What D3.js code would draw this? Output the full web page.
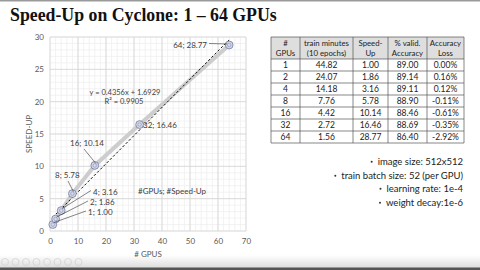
<!DOCTYPE html>
<html>
<head>
<meta charset="utf-8">
<script src="https://cdn.jsdelivr.net/npm/d3@7"></script>
<style>
  body { margin: 0; background: #fff; }
  svg { display: block; }
  text { font-family: Lato, "Open Sans", sans-serif; }
</style>
</head>
<body>
<div id="slide"></div>
<script>
// data
const gpus = [1, 2, 4, 8, 16, 32, 64];
const speedUp = [1.00, 1.86, 3.16, 5.78, 10.14, 16.46, 28.77];
const trainMinutes = [44.82, 24.07, 14.18, 7.76, 4.42, 2.72, 1.56];
const validAccuracy = [89.00, 89.14, 89.11, 88.90, 88.46, 88.69, 86.40];
const accuracyLoss = ["0.00%", "0.16%", "0.12%", "-0.11%", "-0.61%", "-0.35%", "-2.92%"];
const xTicks = [0, 10, 20, 30, 40, 50, 60, 70];
const yTicks = [0, 5, 10, 15, 20, 25, 30];
const trend = {slope: 0.4356, intercept: 1.6929, r2: 0.9905};
const headers = [["#", "GPUs"], ["train minutes", "(10 epochs)"], ["Speed-", "Up"], ["% valid.", "Accuracy"], ["Accuracy", "Loss"]];
const notes = ["image size: 512x512", "train batch size: 52 (per GPU)", "learning rate: 1e-4", "weight decay:1e-6"];

const W = 480, H = 270;
const svg = d3.select("#slide").append("svg")
  .attr("width", W).attr("height", H);

// slide frame: top rule and bottom toolbar
svg.append("rect").attr("x", 0).attr("y", 0).attr("width", W).attr("height", 1.5).attr("fill", "#9a9a9a");
const grad = svg.append("defs").append("linearGradient").attr("id", "bar").attr("x1", 0).attr("x2", 0).attr("y1", 0).attr("y2", 1);
grad.append("stop").attr("offset", "0%").attr("stop-color", "#ffffff");
grad.append("stop").attr("offset", "100%").attr("stop-color", "#dcdcdc");
svg.append("rect").attr("x", 0).attr("y", 255).attr("width", W).attr("height", 13).attr("fill", "url(#bar)");
svg.append("rect").attr("x", 0).attr("y", 267.5).attr("width", W).attr("height", 2.5).attr("fill", "#555");
svg.selectAll(".btn").data(d3.range(8)).join("circle")
  .attr("cx", d => 5 + d * 10.5).attr("cy", 262).attr("r", 3.5)
  .attr("fill", "none").attr("stroke", "#d0d0d0").attr("stroke-width", 0.8);

// title
svg.append("text").attr("x", 10).attr("y", 21)
  .style("font-family", "'Liberation Serif', 'DejaVu Serif', serif")
  .style("font-weight", "bold").style("font-size", "17.8px").attr("fill", "#111")
  .text("Speed-Up on Cyclone: 1 \u2013 64 GPUs");

// chart
const x = d3.scaleLinear().domain([0, 70]).range([50, 246]);
const y = d3.scaleLinear().domain([0, 30]).range([231, 37]);

const g = svg.append("g");
// minor grid
g.selectAll(".mx").data(d3.range(0, 71, 2)).join("line")
  .attr("x1", d => x(d)).attr("x2", d => x(d)).attr("y1", y(0)).attr("y2", y(30))
  .attr("stroke", "#eeeeee").attr("stroke-width", 0.7);
g.selectAll(".my").data(d3.range(0, 31, 1)).join("line")
  .attr("x1", x(0)).attr("x2", x(70)).attr("y1", d => y(d)).attr("y2", d => y(d))
  .attr("stroke", "#eeeeee").attr("stroke-width", 0.7);
// major grid
g.selectAll(".Mx").data(xTicks).join("line")
  .attr("x1", d => x(d)).attr("x2", d => x(d)).attr("y1", y(0)).attr("y2", y(30))
  .attr("stroke", "#d4d4d4").attr("stroke-width", 0.8);
g.selectAll(".My").data(yTicks).join("line")
  .attr("x1", x(0)).attr("x2", x(70)).attr("y1", d => y(d)).attr("y2", d => y(d))
  .attr("stroke", "#d4d4d4").attr("stroke-width", 0.8);

// axes (labels only, no domain)
const xAxis = svg.append("g").attr("transform", `translate(0,${y(0) + 4})`)
  .call(d3.axisBottom(x).tickValues(xTicks).tickSize(0).tickPadding(3));
const yAxis = svg.append("g").attr("transform", `translate(${x(0) - 4},0)`)
  .call(d3.axisLeft(y).tickValues(yTicks).tickSize(0).tickPadding(2));
[xAxis, yAxis].forEach(a => {
  a.select(".domain").remove();
  a.selectAll("text").style("font-family", "Lato, sans-serif").style("font-size", "8px").attr("fill", "#595959");
});

svg.append("text").attr("x", 148).attr("y", 257).attr("text-anchor", "middle")
  .style("font-size", "8px").attr("fill", "#595959").text("# GPUS");
svg.append("text").attr("transform", `translate(32,134) rotate(-90)`).attr("text-anchor", "middle")
  .style("font-size", "8px").attr("fill", "#595959").text("SPEED-UP");

const pts = gpus.map((d, i) => ({g: d, s: speedUp[i]}));

// series line
g.append("path").datum(pts)
  .attr("fill", "none").attr("stroke", "#cdcdcd").attr("stroke-width", 4)
  .attr("d", d3.line().x(d => x(d.g)).y(d => y(d.s)));

// trend line
const tx = d3.extent(gpus);
g.append("line")
  .attr("x1", x(tx[0])).attr("y1", y(trend.slope * tx[0] + trend.intercept))
  .attr("x2", x(tx[1])).attr("y2", y(trend.slope * tx[1] + trend.intercept))
  .attr("stroke", "#111").attr("stroke-width", 1).attr("stroke-dasharray", "2.5,2");

// markers
g.selectAll(".pt").data(pts).join("circle")
  .attr("cx", d => x(d.g)).attr("cy", d => y(d.s)).attr("r", 3.9)
  .attr("fill", "#d5d8e8").attr("stroke", "#7d84a6").attr("stroke-width", 0.9);
g.selectAll(".pti").data(pts).join("circle")
  .attr("cx", d => x(d.g)).attr("cy", d => y(d.s)).attr("r", 1.8)
  .attr("fill", "none").attr("stroke", "#8a90b0").attr("stroke-width", 0.6);

// data labels: [label x, label y, anchor, leader from x,y]
const labelPos = [
  [88, 215, "start", 86, 211],
  [90, 205, "start", 88, 201],
  [93, 194.5, "start", 91, 190.5],
  [55, 178, "start", 68, 181],
  [70, 146, "start", 84, 149],
  [143, 127.5, "start", null, null],
  [207, 47.5, "end", 209, 43.5]
];
pts.forEach((d, i) => {
  const [lx, ly, anc, fx, fy] = labelPos[i];
  if (fx !== null) {
    g.append("line").attr("x1", fx).attr("y1", fy).attr("x2", x(d.g) + (i === 6 ? -2 : 1)).attr("y2", y(d.s) - (i === 6 ? 1 : 2))
      .attr("stroke", "#333").attr("stroke-width", 0.6);
  }
  g.append("text").attr("x", lx).attr("y", ly).attr("text-anchor", anc)
    .style("font-size", "8px").attr("fill", "#404040")
    .text(`${d.g}; ${d3.format(".2f")(d.s)}`);
});

g.append("text").attr("x", 138).attr("y", 194).style("font-size", "8px").attr("fill", "#404040").text("#GPUs; #Speed-Up");
g.append("text").attr("x", 125).attr("y", 94.5).attr("text-anchor", "middle").style("font-size", "7.5px").attr("fill", "#404040")
  .text(`y = ${trend.slope}x + ${trend.intercept}`);
g.append("text").attr("x", 124).attr("y", 104).attr("text-anchor", "middle").style("font-size", "7.5px").attr("fill", "#404040")
  .text(`R\u00b2 = ${trend.r2}`);

// table
const colEdges = [271, 300, 353, 388, 427, 464];
const tTop = 37, headH = 22, rowH = 12;
const rows = gpus.map((d, i) => [String(d), d3.format(".2f")(trainMinutes[i]), d3.format(".2f")(speedUp[i]), d3.format(".2f")(validAccuracy[i]), accuracyLoss[i]]);
const tbl = svg.append("g");
tbl.append("rect").attr("x", colEdges[0]).attr("y", tTop).attr("width", colEdges[5] - colEdges[0]).attr("height", headH).attr("fill", "#dedede");
const tBottom = tTop + headH + rows.length * rowH;
colEdges.forEach(cx => tbl.append("line").attr("x1", cx).attr("x2", cx).attr("y1", tTop).attr("y2", tBottom).attr("stroke", "#555").attr("stroke-width", 0.7));
[tTop, ...d3.range(rows.length + 1).map(i => tTop + headH + i * rowH)].forEach(ry =>
  tbl.append("line").attr("x1", colEdges[0]).attr("x2", colEdges[5]).attr("y1", ry).attr("y2", ry).attr("stroke", "#555").attr("stroke-width", 0.7));
headers.forEach((h, c) => {
  const cx = (colEdges[c] + colEdges[c + 1]) / 2;
  h.forEach((t, k) => tbl.append("text").attr("x", cx).attr("y", tTop + 9 + k * 10).attr("text-anchor", "middle")
    .style("font-size", "7.8px").attr("fill", "#222").text(t));
});
rows.forEach((r, i) => r.forEach((t, c) => {
  const cx = (colEdges[c] + colEdges[c + 1]) / 2;
  tbl.append("text").attr("x", cx).attr("y", tTop + headH + i * rowH + 9).attr("text-anchor", "middle")
    .style("font-size", "8.5px").attr("fill", "#222").text(t);
}));

// bullet notes
const noteY = [165, 179, 192, 206];
notes.forEach((t, i) => {
  const nt = svg.append("text").attr("x", 463).attr("y", noteY[i]).attr("text-anchor", "end")
    .style("font-size", "9.5px").attr("fill", "#222").text(t);
  const bb = nt.node().getBBox();
  svg.append("circle").attr("cx", bb.x - 6).attr("cy", noteY[i] - 3.2).attr("r", 1).attr("fill", "#333");
});
</script>
</body>
</html>
